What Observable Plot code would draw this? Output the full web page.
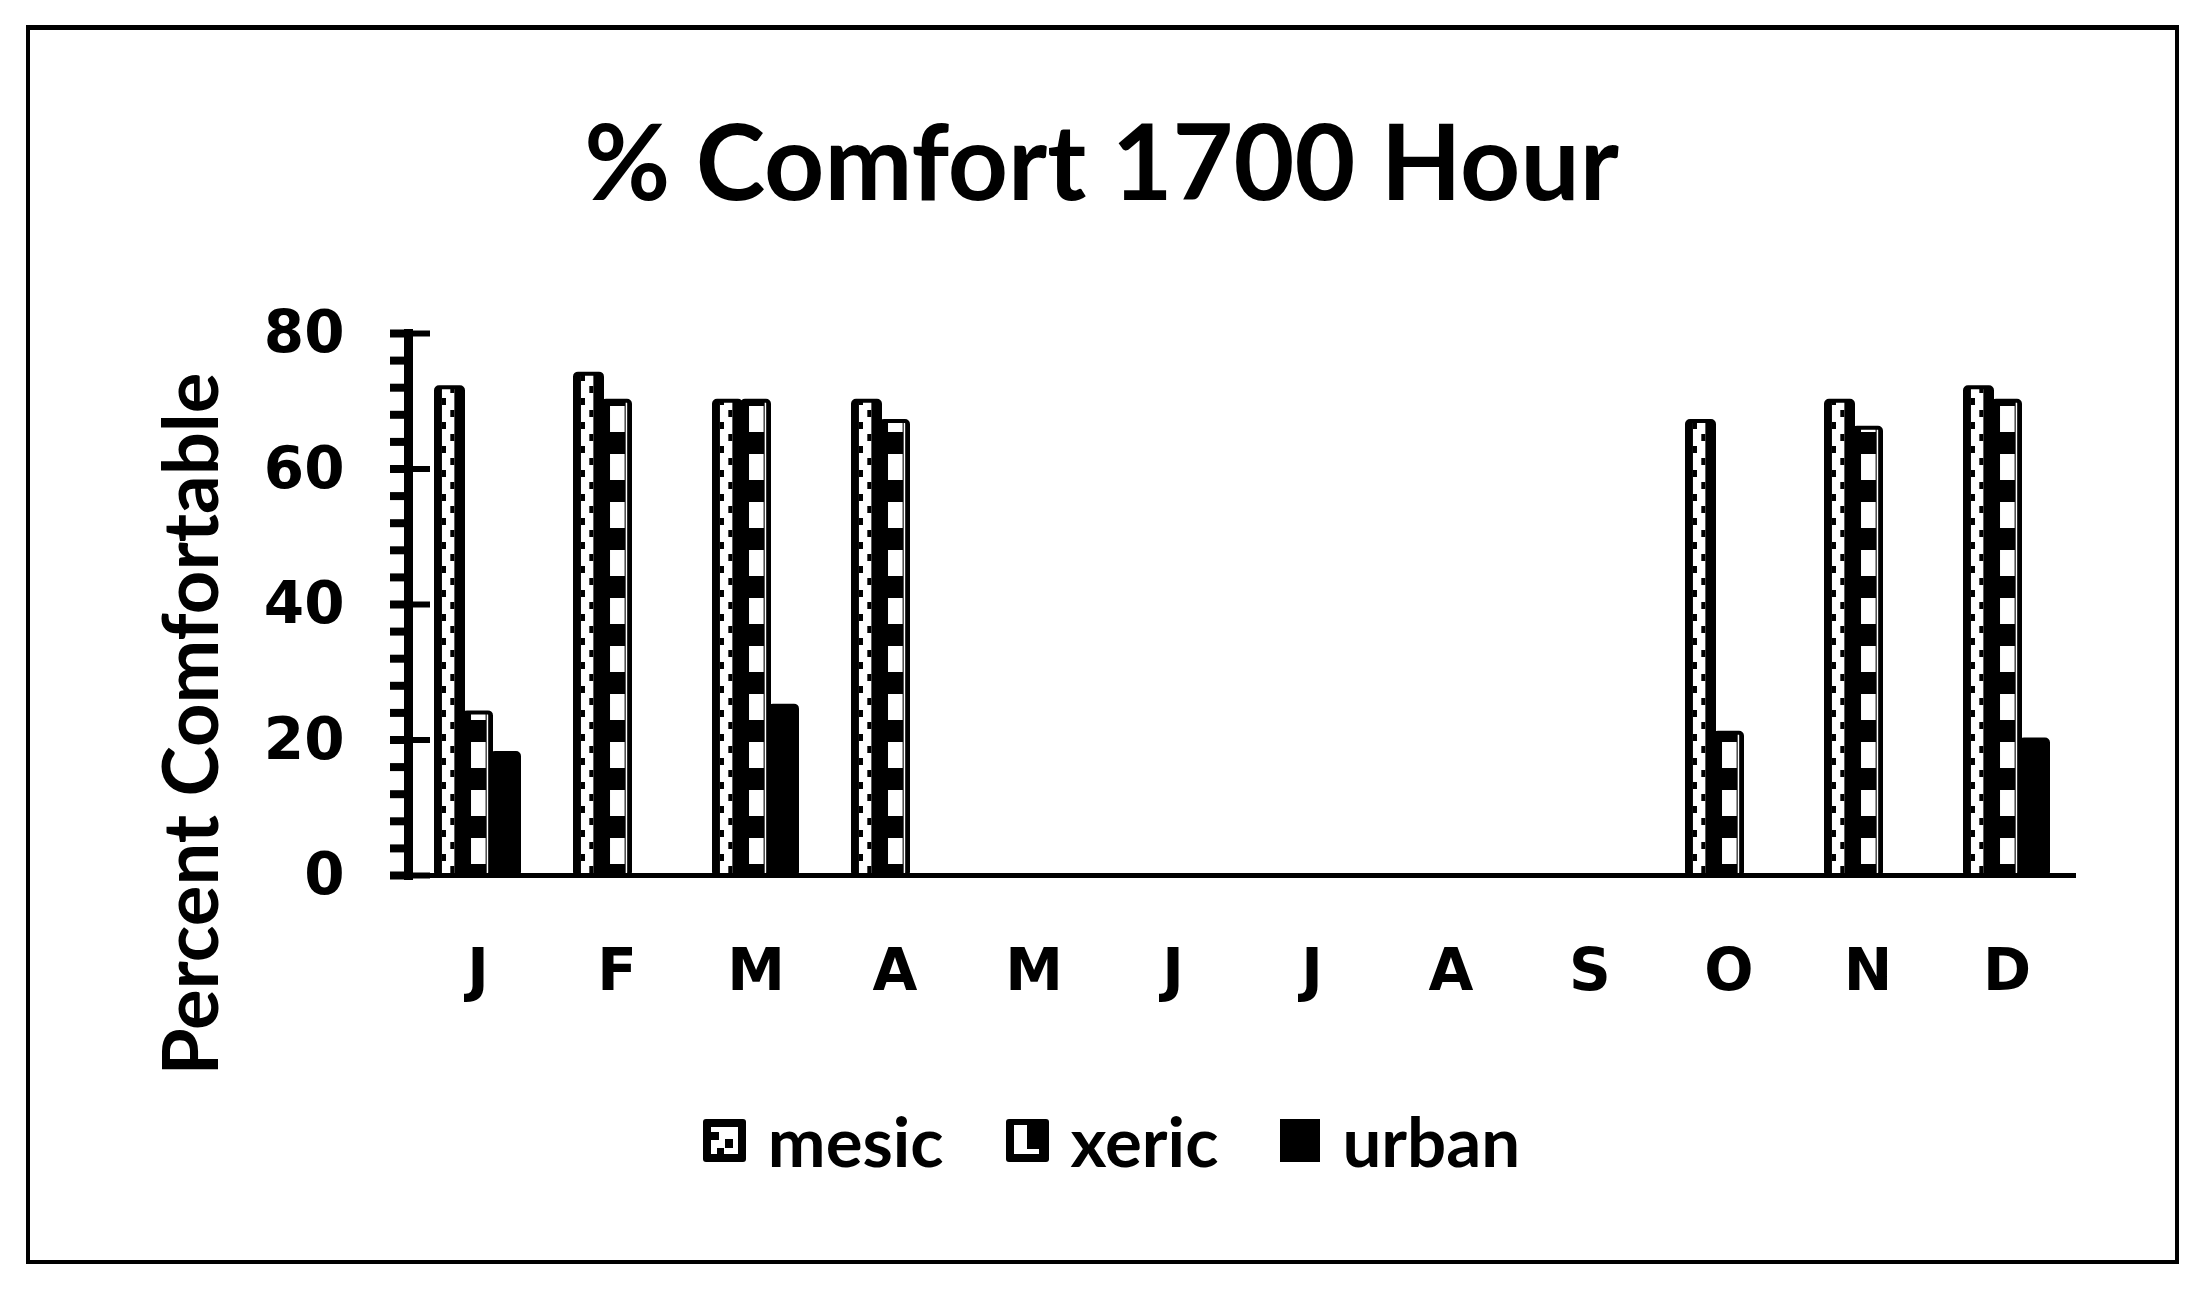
<!DOCTYPE html>
<html>
<head>
<meta charset="utf-8">
<script src="https://cdn.jsdelivr.net/npm/d3@7"></script>
<script src="https://cdn.jsdelivr.net/npm/@observablehq/plot@0.6"></script>
<style>
  html, body { margin: 0; padding: 0; background: #fff; }
  #root { position: relative; width: 2203px; height: 1296px; overflow: hidden; background: #fff; }
  #border { position: absolute; left: 26px; top: 25px; width: 2145px; height: 1230px; border: 4px solid #000; border-top-width: 5px; }
  #title { position: absolute; left: 0; top: 107px; width: 2203px; text-align: center; font-family: Lato, "DejaVu Sans", sans-serif; font-weight: 700; font-size: 105px; line-height: 1; color: #000; white-space: nowrap; }
  #ylabel { position: absolute; left: 189px; top: 724px; transform: translate(-50%, -50%) rotate(-90deg); font-family: Lato, "DejaVu Sans", sans-serif; font-weight: 700; font-size: 76px; line-height: 1; white-space: nowrap; color: #000; }
  #chart { position: absolute; left: 0; top: 0; }
  #legend { position: absolute; left: 10px; top: 1106px; width: 2203px; display: flex; justify-content: center; align-items: center; gap: 62px; font-family: Lato, "DejaVu Sans", sans-serif; font-weight: 700; font-size: 69px; line-height: 1; color: #000; }
  .item { display: flex; align-items: center; gap: 22px; }
  .item svg { display: block; }
</style>
</head>
<body>
<div id="root">
  <div id="border"></div>
  <svg width="0" height="0" style="position:absolute">
    <defs>
      <pattern id="pat-mesic" patternUnits="userSpaceOnUse" width="28" height="24"></pattern>
      <pattern id="pat-xeric" patternUnits="userSpaceOnUse" width="28" height="48"></pattern>
    </defs>
  </svg>
  <div id="title"></div>
  <div id="ylabel"></div>
  <div id="chart"></div>
  <div id="legend"></div>
</div>
<script>
// ---- data ----
const monthKeys = ["Jan","Feb","Mar","Apr","May","Jun","Jul","Aug","Sep","Oct","Nov","Dec"];
const monthLabels = ["J","F","M","A","M","J","J","A","S","O","N","D"];
const seriesNames = ["mesic","xeric","urban"];
const mesic = [72, 74, 70, 70, 0, 0, 0, 0, 0, 67, 70, 72];
const xeric = [24, 70, 70, 67, 0, 0, 0, 0, 0, 21, 66, 70];
const urban = [18, 0, 25, 0, 0, 0, 0, 0, 0, 0, 0, 20];
const yMajorTicks = [0, 20, 40, 60, 80];
const yMinorTicks = d3.range(0, 81, 4);
const titleText = "% Comfort 1700 Hour";
const yLabelText = "Percent Comfortable";
const seriesFills = ["url(#pat-mesic)", "url(#pat-xeric)", "#000"];

const seriesValues = {mesic, xeric, urban};
const rows = monthKeys.flatMap((m, i) =>
  seriesNames.map(s => ({month: m, series: s, value: seriesValues[s][i]}))
);

document.getElementById("title").textContent = titleText;
document.getElementById("ylabel").textContent = yLabelText;

const chart = Plot.plot({
  width: 2203,
  height: 1296,
  marginTop: 333,
  marginBottom: 421,
  marginLeft: 405,
  marginRight: 124,
  style: {background: "none", color: "#000", fontFamily: "DejaVu Sans", overflow: "visible"},
  fx: {domain: monthKeys, padding: 0, label: null},
  x: {domain: seriesNames, paddingInner: 0.04, paddingOuter: 0.92, axis: null},
  y: {domain: [0, 80]},
  color: {domain: seriesNames, range: seriesFills},
  marks: [
    Plot.barY(rows, {fx: "month", x: "series", y: "value", fill: "series", stroke: "#000", strokeWidth: 4, rx: 3}),
    Plot.ruleY([0], {stroke: "#000", strokeWidth: 5}),
    Plot.frame({anchor: "left", facetAnchor: "left", stroke: "#000", strokeWidth: 9}),
    Plot.axisY({ticks: yMinorTicks, tickSize: 18, strokeWidth: 8, fill: "none", label: null}),
    Plot.axisY({ticks: yMajorTicks, tickSize: 22, dx: 22, strokeWidth: 6, fill: "none", label: null}),
    Plot.axisY({ticks: yMajorTicks, tickSize: 0, tickPadding: 64, fontSize: 58, fontWeight: "bold", fontFamily: "DejaVu Sans", label: null}),
    Plot.axisFx({anchor: "bottom", tickSize: 0, tickPadding: 73, fontSize: 58, fontWeight: "bold", fontFamily: "DejaVu Sans", label: null,
      tickFormat: m => monthLabels[monthKeys.indexOf(m)]})
  ]
});
document.getElementById("chart").appendChild(chart);

// ---- align the bar patterns to the bars (facet-local coordinates) ----
const y0 = chart.scale("y").apply(0);
function firstRect(fill) {
  return Array.from(chart.querySelectorAll("rect")).find(r => r.getAttribute("fill") === fill);
}
function adder(p) {
  return (x, y, ww, hh, f) => {
    const r = document.createElementNS("http://www.w3.org/2000/svg", "rect");
    r.setAttribute("x", x); r.setAttribute("y", y); r.setAttribute("width", ww); r.setAttribute("height", hh); r.setAttribute("fill", f);
    p.appendChild(r);
  };
}
function buildMesic(p, w) {
  const h = 24;
  p.setAttribute("width", w); p.setAttribute("height", h);
  p.innerHTML = "";
  const add = adder(p);
  add(0, 0, w, h, "#000");
  add(w * 0.22, 0, w * 0.46, h, "#fff");
  add(w * 0.22, 3, w * 0.15, 7, "#000");
  add(w * 0.53, 15, w * 0.15, 7, "#000");
}
function buildXeric(p, w) {
  const h = 48;
  p.setAttribute("width", w); p.setAttribute("height", h);
  p.innerHTML = "";
  const add = adder(p);
  add(0, 0, w, h, "#000");
  add(w * 0.26, 11, w * 0.54, 26, "#fff");
  add(w * 0.84, 0, 1.5, h, "#fff");
}
[["url(#pat-mesic)", "pat-mesic", buildMesic], ["url(#pat-xeric)", "pat-xeric", buildXeric]].forEach(([fill, id, build]) => {
  const r = firstRect(fill);
  const p = document.getElementById(id);
  const w = r ? +r.getAttribute("width") : 28;
  build(p, w);
  if (r) p.setAttribute("x", r.getAttribute("x"));
  p.setAttribute("y", y0);
});

// ---- legend ----
const legend = document.getElementById("legend");
const swatchSvg = {
  mesic: '<svg width="43" height="43"><rect x="0" y="0" width="43" height="43" rx="3" fill="#000"/><rect x="8" y="8" width="27" height="27" fill="#fff"/><rect x="8" y="13" width="8" height="8" fill="#000"/><rect x="22" y="20" width="8" height="9" fill="#000"/><rect x="14" y="29" width="7" height="6" fill="#000"/></svg>',
  xeric: '<svg width="43" height="43"><rect x="0" y="0" width="43" height="43" rx="3" fill="#000"/><rect x="8" y="6" width="13" height="29" fill="#fff"/><rect x="21" y="30" width="12" height="5" fill="#fff"/></svg>',
  urban: '<svg width="40" height="43"><rect x="0" y="0" width="40" height="43" fill="#000"/></svg>'
};
seriesNames.forEach(s => {
  const item = document.createElement("div");
  item.className = "item";
  item.innerHTML = swatchSvg[s];
  const t = document.createElement("span");
  t.textContent = s;
  item.appendChild(t);
  legend.appendChild(item);
});
</script>
</body>
</html>
